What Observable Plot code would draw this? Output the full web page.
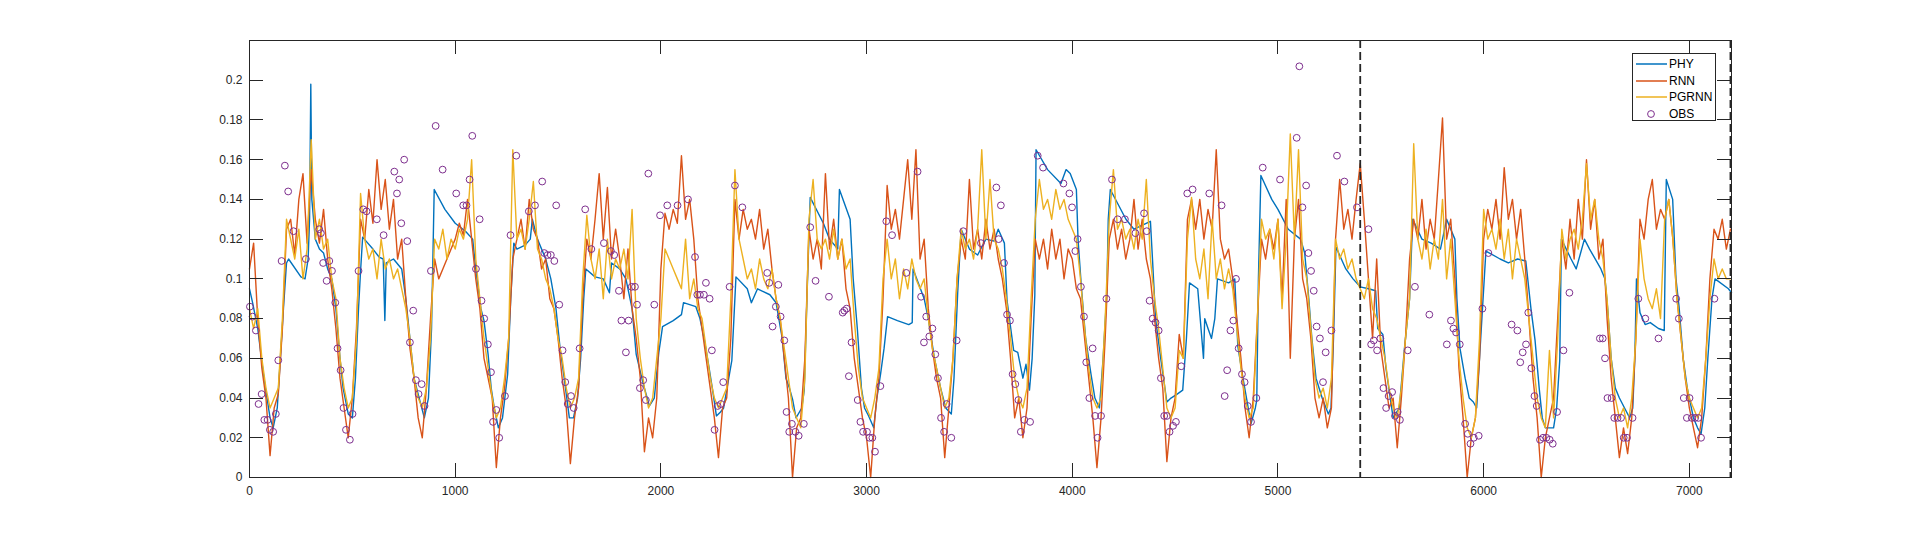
<!DOCTYPE html>
<html>
<head>
<meta charset="utf-8">
<script src="https://cdn.jsdelivr.net/npm/d3@7"></script>
<script src="https://cdn.jsdelivr.net/npm/@observablehq/plot@0.6"></script>
<style>
  html, body { margin: 0; padding: 0; background: #fff; }
  #wrap { position: relative; width: 1912px; height: 537px; }
  #wrap svg { display: block; }
  #legend {
    position: absolute; left: 1632px; top: 53px; width: 84px; height: 68px;
    background: #fff; border: 1px solid #262626; box-sizing: border-box;
    font-family: "Liberation Sans", Arial, sans-serif; font-size: 12px; color: #000;
  }
  .row { position: absolute; left: 0; height: 16px; width: 100%; }
  .row svg { position: absolute; left: 0; top: 0; }
  .row span { position: absolute; left: 36px; top: 1px; line-height: 14px; }
</style>
</head>
<body>
<div id="wrap"><div id="legend"></div></div>
<script>
// ---------------- data ----------------
const xTicks = [0, 1000, 2000, 3000, 4000, 5000, 6000, 7000];
const yTicks = [0, 0.02, 0.04, 0.06, 0.08, 0.1, 0.12, 0.14, 0.16, 0.18, 0.2];
const seriesNames = ["PHY", "RNN", "PGRNN", "OBS"];
const seriesColors = ["#0072BD", "#D95319", "#EDB120", "#7E2F8E"];
const splitDays = [5400, 7200];

// PHY: key points (time, value)
const phyT = [0,15,40,70,100,115,135,150,165,180,190,250,270,285,292,298,303,320,340,360,380,400,420,440,455,480,500,515,530,540,550,600,630,650,658,665,700,740,760,780,800,820,850,870,885,898,950,1000,1050,1085,1100,1125,1140,1160,1175,1190,1210,1230,1255,1270,1285,1300,1340,1365,1375,1400,1440,1465,1490,1510,1530,1555,1575,1595,1610,1625,1635,1680,1720,1750,1760,1800,1830,1860,1880,1912,1944,1968,1990,2000,2008,2060,2100,2110,2170,2190,2210,2230,2250,2270,2290,2305,2330,2345,2355,2365,2420,2440,2470,2530,2560,2590,2608,2625,2641,2657,2685,2697,2710,2726,2790,2820,2860,2868,2920,2935,2955,2975,2990,3010,3035,3050,3068,3085,3102,3150,3205,3222,3226,3280,3300,3330,3360,3385,3412,3425,3443,3460,3500,3540,3580,3620,3640,3670,3683,3715,3735,3760,3775,3792,3805,3818,3824,3880,3945,3970,3990,4020,4028,4045,4065,4091,4110,4132,4150,4168,4175,4185,4261,4300,4380,4390,4405,4430,4460,4480,4510,4537,4555,4570,4610,4638,4644,4660,4677,4693,4706,4760,4790,4805,4830,4869,4890,4897,4905,4917,4970,5000,5050,5110,5130,5150,5165,5185,5215,5245,5258,5270,5282,5330,5365,5400,5440,5475,5485,5510,5525,5560,5590,5615,5640,5655,5700,5745,5790,5820,5860,5870,5885,5910,5930,5950,5966,5980,6011,6080,6120,6165,6205,6230,6250,6270,6285,6300,6340,6355,6370,6378,6425,6450,6490,6515,6570,6590,6603,6620,6640,6660,6685,6710,6725,6735,6743,6760,6785,6810,6850,6878,6888,6919,6935,6950,6970,6990,7020,7040,7057,7075,7090,7110,7125,7190,7205];
const phyV = [0.095,0.088,0.075,0.05,0.03,0.025,0.035,0.06,0.085,0.108,0.11,0.101,0.10,0.11,0.13,0.198,0.14,0.12,0.115,0.113,0.105,0.10,0.085,0.06,0.045,0.032,0.03,0.05,0.085,0.104,0.121,0.115,0.111,0.11,0.079,0.108,0.11,0.105,0.09,0.07,0.05,0.042,0.03,0.04,0.075,0.145,0.135,0.128,0.124,0.12,0.105,0.085,0.079,0.062,0.045,0.035,0.025,0.03,0.052,0.09,0.118,0.115,0.117,0.12,0.13,0.12,0.11,0.10,0.085,0.065,0.05,0.03,0.03,0.04,0.06,0.09,0.105,0.101,0.1,0.093,0.108,0.105,0.10,0.085,0.062,0.048,0.036,0.04,0.063,0.07,0.076,0.079,0.082,0.088,0.086,0.08,0.07,0.058,0.045,0.031,0.033,0.035,0.05,0.059,0.08,0.101,0.095,0.088,0.095,0.092,0.088,0.07,0.05,0.045,0.039,0.03,0.035,0.044,0.09,0.141,0.128,0.12,0.115,0.145,0.13,0.1,0.075,0.045,0.035,0.031,0.025,0.04,0.052,0.065,0.081,0.079,0.077,0.078,0.105,0.09,0.08,0.06,0.045,0.035,0.032,0.05,0.093,0.125,0.115,0.112,0.12,0.119,0.125,0.118,0.089,0.064,0.063,0.05,0.057,0.044,0.06,0.092,0.165,0.155,0.148,0.155,0.153,0.145,0.12,0.095,0.07,0.052,0.04,0.035,0.06,0.093,0.13,0.145,0.13,0.125,0.129,0.11,0.08,0.06,0.038,0.04,0.042,0.044,0.07,0.098,0.095,0.06,0.08,0.075,0.07,0.08,0.1,0.098,0.1,0.066,0.05,0.027,0.035,0.039,0.1,0.152,0.14,0.135,0.125,0.12,0.113,0.09,0.07,0.05,0.04,0.032,0.035,0.07,0.116,0.105,0.1,0.096,0.095,0.094,0.075,0.072,0.055,0.03,0.035,0.065,0.09,0.13,0.12,0.118,0.115,0.13,0.12,0.09,0.065,0.05,0.04,0.038,0.035,0.06,0.114,0.11,0.108,0.11,0.109,0.085,0.069,0.045,0.03,0.025,0.025,0.035,0.059,0.12,0.11,0.105,0.12,0.115,0.105,0.1,0.085,0.06,0.045,0.04,0.035,0.03,0.035,0.06,0.1,0.083,0.077,0.078,0.075,0.074,0.15,0.14,0.1,0.086,0.06,0.045,0.03,0.025,0.022,0.035,0.06,0.09,0.1,0.095,0.093];

// RNN and PGRNN: one value every 20 time steps, from 0 to 7200
const modelStep = 20;
const rnnV = [
 .105,.118,.08,.055,.04,.011,.035,.042,.075,.125,
 .13,.112,.14,.153,.118,.155,.13,.118,.135,.11,
 .095,.075,.05,.035,.02,.04,.075,.13,.12,.145,
 .128,.16,.135,.15,.125,.14,.11,.12,.09,.065,
 .05,.03,.02,.045,.08,.11,.1,.105,.11,.115,
 .12,.128,.122,.14,.12,.1,.085,.06,.05,.04,
 .005,.03,.045,.07,.11,.12,.13,.115,.14,.125,
 .12,.105,.11,.09,.085,.07,.05,.035,.007,.03,
 .045,.09,.12,.11,.13,.153,.12,.146,.11,.125,
 .11,.09,.115,.085,.07,.05,.013,.03,.02,.04,
 .105,.133,.125,.135,.128,.162,.13,.14,.12,.09,
 .075,.06,.045,.03,.01,.035,.04,.07,.14,.12,
 .135,.125,.13,.12,.135,.115,.125,.105,.09,.08,
 .06,.04,.0,.025,.03,.06,.125,.11,.12,.105,
 .153,.115,.13,.11,.12,.095,.085,.06,.045,.03,
 .02,.0,.03,.05,.09,.147,.125,.135,.12,.14,
 .16,.13,.165,.11,.12,.085,.065,.05,.04,.01,
 .035,.06,.1,.12,.11,.15,.115,.125,.11,.13,
 .115,.125,.11,.1,.085,.06,.03,.04,.02,.035,
 .08,.12,.11,.12,.105,.125,.11,.12,.1,.115,
 .11,.095,.09,.07,.05,.03,.005,.03,.07,.12,
 .13,.115,.125,.11,.12,.14,.115,.13,.11,.1,
 .08,.06,.045,.008,.03,.04,.072,.06,.13,.14,
 .125,.14,.12,.135,.125,.165,.12,.11,.115,.1,
 .08,.06,.035,.02,.04,.08,.12,.11,.125,.115,
 .13,.09,.14,.06,.12,.14,.1,.09,.07,.04,
 .03,.04,.025,.035,.12,.15,.125,.135,.12,.14,
 .158,.13,.1,.07,.11,.065,.05,.035,.04,.015,
 .04,.07,.11,.13,.12,.14,.115,.13,.12,.15,
 .181,.12,.13,.1,.055,.03,.0,.02,.03,.06,
 .12,.135,.125,.14,.12,.156,.13,.14,.12,.135,
 .11,.08,.05,.03,.0,.02,.03,.04,.08,.12,
 .105,.13,.11,.14,.12,.16,.125,.14,.11,.12,
 .08,.05,.03,.01,.025,.012,.03,.07,.13,.12,
 .14,.15,.125,.135,.13,.14,.12,.09,.07,.05,
 .035,.025,.015,.03,.06,.1,.125,.12,.13,.115,
 .125];
const pgrnnV = [
 .085,.075,.085,.06,.045,.035,.04,.045,.08,.13,
 .12,.11,.125,.1,.115,.17,.12,.13,.115,.12,
 .1,.09,.06,.045,.035,.04,.07,.143,.12,.11,
 .115,.1,.12,.105,.11,.1,.105,.095,.085,.07,
 .05,.04,.035,.045,.07,.12,.115,.125,.11,.12,
 .115,.125,.12,.13,.16,.11,.09,.07,.055,.04,
 .03,.035,.05,.07,.165,.12,.125,.115,.13,.149,
 .115,.11,.1,.095,.085,.07,.06,.045,.035,.04,
 .05,.1,.132,.11,.1,.115,.09,.12,.1,.11,
 .105,.115,.1,.135,.08,.06,.045,.035,.04,.06,
 .08,.115,.11,.105,.1,.095,.12,.09,.1,.085,
 .08,.065,.05,.04,.035,.04,.045,.09,.155,.12,
 .11,.1,.105,.095,.11,.1,.095,.105,.09,.08,
 .065,.05,.035,.03,.025,.05,.13,.15,.12,.115,
 .12,.11,.125,.11,.12,.105,.11,.08,.055,.04,
 .035,.03,.04,.055,.1,.12,.1,.11,.09,.105,
 .095,.11,.1,.095,.1,.08,.065,.055,.045,.035,
 .04,.06,.1,.125,.115,.12,.11,.125,.165,.12,
 .15,.12,.115,.105,.09,.07,.05,.04,.035,.045,
 .09,.13,.15,.135,.14,.13,.145,.135,.14,.13,
 .125,.12,.1,.075,.055,.04,.035,.04,.08,.13,
 .155,.125,.13,.12,.125,.115,.13,.12,.15,.11,
 .09,.075,.055,.035,.03,.035,.064,.06,.12,.141,
 .11,.1,.115,.09,.13,.1,.11,.095,.105,.095,
 .075,.055,.04,.03,.035,.08,.13,.12,.125,.11,
 .13,.085,.12,.173,.12,.165,.11,.1,.075,.05,
 .04,.045,.035,.05,.12,.11,.115,.105,.11,.1,
 .095,.09,.1,.085,.08,.07,.06,.045,.035,.03,
 .045,.07,.09,.168,.12,.11,.125,.105,.12,.11,
 .14,.1,.12,.09,.06,.04,.025,.02,.03,.07,
 .135,.12,.125,.115,.13,.11,.125,.1,.12,.11,
 .1,.08,.06,.04,.03,.025,.064,.03,.07,.125,
 .11,.12,.125,.115,.13,.158,.13,.14,.12,.11,
 .09,.06,.04,.03,.035,.025,.04,.07,.12,.1,
 .09,.085,.095,.08,.13,.14,.12,.09,.07,.05,
 .04,.035,.03,.035,.06,.09,.11,.1,.105,.1,
 .1];

// OBS: observed points (time, value)
const obsT = [2,15,31,44,59,72,88,99,115,128,140,156,172,188,214,274,339,347,358,375,388,401,417,428,443,457,469,488,501,530,553,569,619,652,704,717,728,738,752,767,780,796,809,822,837,851,882,905,939,1005,1039,1055,1070,1083,1101,1119,1128,1141,1159,1174,1184,1200,1214,1242,1269,1297,1358,1388,1423,1433,1449,1465,1482,1491,1506,1522,1535,1547,1563,1576,1605,1632,1662,1723,1757,1773,1796,1808,1830,1843,1858,1874,1884,1898,1914,1927,1939,1968,1996,2031,2081,2132,2166,2177,2190,2209,2219,2237,2248,2261,2276,2292,2303,2334,2360,2396,2517,2527,2543,2559,2571,2582,2600,2611,2624,2637,2654,2670,2695,2726,2752,2817,2884,2892,2903,2914,2927,2957,2970,2983,3002,3014,3028,3041,3067,3096,3124,3193,3248,3265,3279,3290,3305,3320,3334,3347,3362,3377,3389,3412,3438,3470,3556,3631,3642,3653,3668,3683,3697,3710,3723,3738,3750,3767,3795,3832,3858,3957,3986,3999,4015,4026,4042,4057,4068,4083,4099,4111,4123,4140,4166,4193,4221,4256,4307,4349,4362,4376,4391,4405,4420,4431,4447,4460,4473,4490,4504,4530,4559,4585,4666,4726,4741,4753,4769,4783,4796,4809,4825,4838,4853,4869,4895,4926,5010,5091,5104,5119,5137,5148,5161,5174,5188,5204,5219,5232,5260,5287,5323,5384,5440,5453,5466,5482,5498,5513,5526,5538,5555,5569,5582,5593,5631,5666,5736,5821,5841,5853,5866,5884,5910,5923,5936,5952,5976,5994,6023,6136,6164,6178,6190,6206,6217,6232,6247,6258,6274,6289,6305,6321,6336,6357,6388,6417,6565,6579,6590,6602,6622,6635,6651,6668,6681,6697,6724,6752,6786,6850,6936,6949,6973,6988,7001,7012,7028,7044,7057,7122];
const obsV = [.086,.081,.074,.037,.042,.029,.029,.024,.023,.032,.059,.109,.157,.144,.124,.110,.125,.123,.108,.099,.109,.104,.088,.065,.054,.035,.024,.019,.032,.104,.135,.134,.130,.122,.154,.143,.150,.128,.160,.119,.068,.084,.049,.042,.047,.036,.104,.177,.155,.143,.137,.137,.150,.172,.105,.130,.089,.080,.067,.053,.028,.034,.020,.041,.122,.162,.134,.137,.149,.113,.112,.112,.109,.137,.087,.064,.048,.037,.041,.035,.065,.135,.115,.118,.114,.112,.094,.079,.063,.079,.096,.096,.087,.045,.049,.039,.153,.087,.132,.137,.137,.140,.111,.092,.092,.092,.098,.090,.064,.024,.036,.037,.048,.096,.147,.136,.103,.098,.076,.086,.097,.081,.069,.033,.023,.027,.023,.021,.027,.126,.099,.091,.083,.084,.085,.051,.068,.039,.028,.023,.023,.020,.020,.013,.046,.129,.122,.103,.154,.091,.068,.081,.071,.075,.062,.050,.030,.023,.037,.020,.069,.124,.118,.146,.120,.137,.108,.082,.079,.052,.047,.039,.023,.029,.028,.162,.156,.148,.143,.136,.114,.120,.096,.081,.058,.040,.065,.031,.020,.031,.090,.150,.130,.130,.123,.133,.124,.089,.080,.078,.074,.050,.031,.031,.023,.026,.028,.056,.143,.145,.143,.137,.041,.054,.074,.079,.100,.065,.052,.048,.036,.028,.040,.156,.150,.171,.207,.136,.147,.113,.104,.094,.076,.070,.048,.063,.074,.162,.149,.136,.125,.067,.069,.064,.070,.045,.035,.041,.043,.031,.033,.029,.064,.096,.082,.067,.079,.075,.073,.067,.027,.022,.017,.020,.021,.085,.113,.077,.074,.058,.063,.067,.083,.055,.041,.036,.019,.020,.020,.019,.017,.033,.064,.093,.070,.070,.060,.040,.040,.030,.030,.030,.020,.020,.030,.090,.080,.070,.090,.080,.040,.030,.040,.030,.030,.030,.020,.090];

// ---------------- tables ----------------
const phy = phyT.map((t, i) => ({t, v: phyV[i]}));
const rnn = rnnV.map((v, i) => ({t: i * modelStep, v}));
const pgrnn = pgrnnV.map((v, i) => ({t: i * modelStep, v}));
const obs = obsT.map((t, i) => ({t, v: obsV[i]}));

const fmtY = d => String(+d.toFixed(2));
const axisColor = "#262626";
const tickLen = 14;

// inward ticks on all four sides, positioned through the chart's own scales
function innerTicks(index, scales, values, dimensions) {
  const {width, height, marginLeft, marginRight, marginTop, marginBottom} = dimensions;
  const left = marginLeft, right = width - marginRight, top = marginTop, bottom = height - marginBottom;
  const g = d3.create("svg:g").attr("stroke", axisColor).attr("stroke-width", 1).attr("fill", "none");
  for (const t of xTicks) {
    const px = Math.round(scales.x(t)) + 0.5;
    g.append("line").attr("x1", px).attr("x2", px).attr("y1", bottom).attr("y2", bottom - tickLen);
    g.append("line").attr("x1", px).attr("x2", px).attr("y1", top).attr("y2", top + tickLen);
  }
  for (const v of yTicks) {
    const py = Math.round(scales.y(v)) + 0.5;
    g.append("line").attr("x1", left).attr("x2", left + tickLen).attr("y1", py).attr("y2", py);
    g.append("line").attr("x1", right).attr("x2", right - tickLen).attr("y1", py).attr("y2", py);
  }
  return g.node();
}

const chart = Plot.plot({
  width: 1912,
  height: 537,
  marginLeft: 249,
  marginRight: 181,
  marginTop: 40,
  marginBottom: 60,
  style: {fontFamily: "'Liberation Sans', Arial, sans-serif", fontSize: "12px", color: axisColor, background: "#fff"},
  x: {domain: [0, 7205], label: null},
  y: {domain: [0, 0.22], label: null},
  marks: [
    Plot.line(phy, {x: "t", y: "v", stroke: seriesColors[0], strokeWidth: 1.4}),
    Plot.line(rnn, {x: "t", y: "v", stroke: seriesColors[1], strokeWidth: 1.4}),
    Plot.line(pgrnn, {x: "t", y: "v", stroke: seriesColors[2], strokeWidth: 1.4}),
    Plot.dot(obs, {x: "t", y: "v", r: 3.4, stroke: seriesColors[3], fill: "none", strokeWidth: 1}),
    Plot.ruleX(splitDays, {stroke: axisColor, strokeWidth: 1.8, strokeDasharray: "8,4"}),
    Plot.frame({stroke: axisColor, strokeWidth: 1}),
    Plot.axisX(xTicks, {anchor: "bottom", tickSize: 0, tickPadding: 9, tickFormat: d => String(d), label: null, fill: axisColor}),
    Plot.axisY(yTicks, {anchor: "left", tickSize: 0, tickPadding: 7, tickFormat: fmtY, label: null, fill: axisColor}),
    innerTicks
  ]
});
const wrap = document.getElementById("wrap");
wrap.insertBefore(chart, wrap.firstChild);

// ---------------- legend ----------------
const legend = document.getElementById("legend");
seriesNames.forEach((name, i) => {
  const row = document.createElement("div");
  row.className = "row";
  row.style.top = (2 + i * 16.5) + "px";
  const sym = i < 3
    ? `<svg width="36" height="16"><line x1="3" x2="34" y1="8" y2="8" stroke="${seriesColors[i]}" stroke-width="1.5"/></svg>`
    : `<svg width="36" height="16"><circle cx="18" cy="8" r="3.4" fill="none" stroke="${seriesColors[i]}" stroke-width="1"/></svg>`;
  row.innerHTML = sym + `<span>${name}</span>`;
  legend.appendChild(row);
});
</script>
</body>
</html>
